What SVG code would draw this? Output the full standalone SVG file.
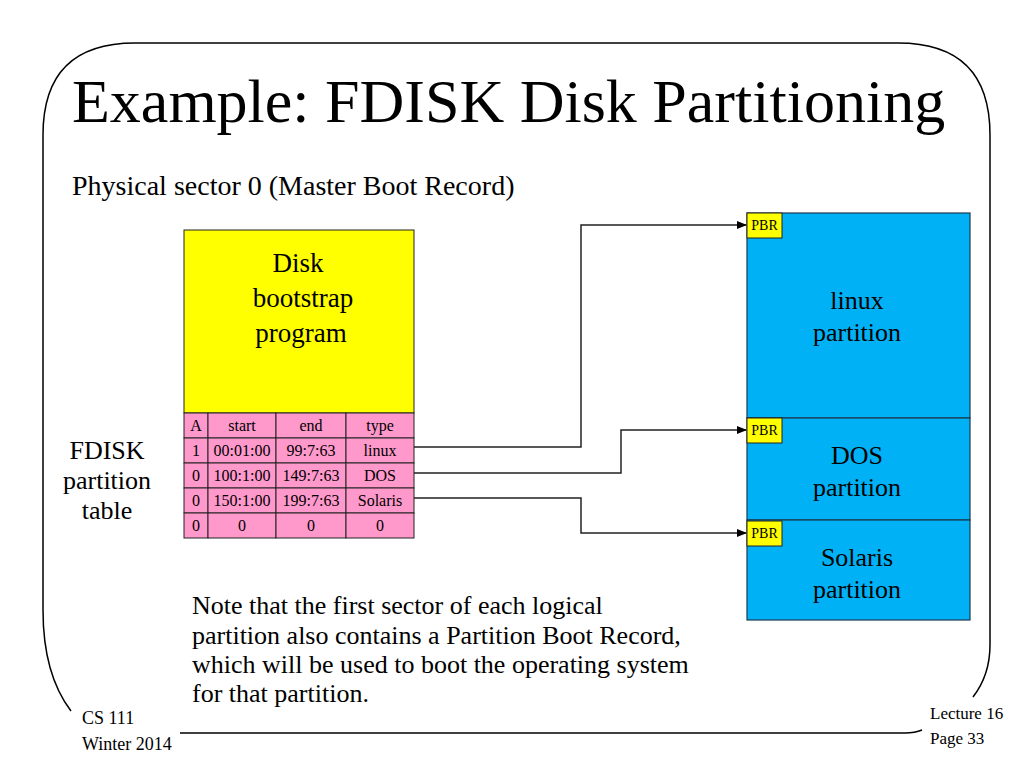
<svg xmlns="http://www.w3.org/2000/svg" width="1024" height="768" viewBox="0 0 1024 768" font-family="'Liberation Serif', 'DejaVu Serif', serif">
<style>
text{font-family:'Liberation Serif','DejaVu Serif',serif;fill:#000}
.c{text-anchor:middle}
.cell{fill:#FF99CC;stroke:#222;stroke-width:1}
.part{fill:#00B2F5;stroke:#1a3a50;stroke-width:1.2}
.pbr{fill:#FFFF00;stroke:#222;stroke-width:1}
.conn{fill:none;stroke:#222;stroke-width:1.5}
.frame{fill:none;stroke:#000;stroke-width:1.5}
.t{font-size:16px}
.p{font-size:14px}
</style>
<defs>
<marker id="ah" markerWidth="10" markerHeight="8" refX="9" refY="4" orient="auto" markerUnits="userSpaceOnUse">
<path d="M0,0 L10,4 L0,8 Z" fill="#000"/>
</marker>
</defs>
<rect width="1024" height="768" fill="#fff"/>
<g id="frame">
<path class="frame" d="M71,711 C55,690 43,660 43,610 L43,135 Q43,43 135,43 L898,43 Q990,43 990,135 L990,645 Q990,675 973,697"/>
<path class="frame" d="M180,733 L905,733 Q915,733 922,730"/>
</g>
<text x="72" y="122" font-size="62">Example: FDISK Disk Partitioning</text>
<text x="72" y="195" font-size="28">Physical sector 0 (Master Boot Record)</text>
<g id="bootstrap">
<rect x="184" y="230" width="230" height="183" fill="#FFFF00" stroke="#222" stroke-width="1"/>
<text class="c" x="298" y="272" font-size="27">Disk</text>
<text class="c" x="303" y="307" font-size="27">bootstrap</text>
<text class="c" x="301" y="342" font-size="27">program</text>
</g>
<g id="table">
<rect class="cell" x="184" y="413" width="24" height="25"/><rect class="cell" x="208" y="413" width="68" height="25"/><rect class="cell" x="276" y="413" width="70" height="25"/><rect class="cell" x="346" y="413" width="68" height="25"/>
<rect class="cell" x="184" y="438" width="24" height="25"/><rect class="cell" x="208" y="438" width="68" height="25"/><rect class="cell" x="276" y="438" width="70" height="25"/><rect class="cell" x="346" y="438" width="68" height="25"/>
<rect class="cell" x="184" y="463" width="24" height="25"/><rect class="cell" x="208" y="463" width="68" height="25"/><rect class="cell" x="276" y="463" width="70" height="25"/><rect class="cell" x="346" y="463" width="68" height="25"/>
<rect class="cell" x="184" y="488" width="24" height="25"/><rect class="cell" x="208" y="488" width="68" height="25"/><rect class="cell" x="276" y="488" width="70" height="25"/><rect class="cell" x="346" y="488" width="68" height="25"/>
<rect class="cell" x="184" y="513" width="24" height="25"/><rect class="cell" x="208" y="513" width="68" height="25"/><rect class="cell" x="276" y="513" width="70" height="25"/><rect class="cell" x="346" y="513" width="68" height="25"/>
<text class="c t" x="196" y="431">A</text><text class="c t" x="242" y="431">start</text><text class="c t" x="311" y="431">end</text><text class="c t" x="380" y="431">type</text>
<text class="c t" x="196" y="456">1</text><text class="c t" x="242" y="456">00:01:00</text><text class="c t" x="311" y="456">99:7:63</text><text class="c t" x="380" y="456">linux</text>
<text class="c t" x="196" y="481">0</text><text class="c t" x="242" y="481">100:1:00</text><text class="c t" x="311" y="481">149:7:63</text><text class="c t" x="380" y="481">DOS</text>
<text class="c t" x="196" y="506">0</text><text class="c t" x="242" y="506">150:1:00</text><text class="c t" x="311" y="506">199:7:63</text><text class="c t" x="380" y="506">Solaris</text>
<text class="c t" x="196" y="531">0</text><text class="c t" x="242" y="531">0</text><text class="c t" x="311" y="531">0</text><text class="c t" x="380" y="531">0</text>
</g>
<g id="fdisk-label">
<text class="c" x="107" y="459" font-size="26">FDISK</text>
<text class="c" x="107" y="489" font-size="26">partition</text>
<text class="c" x="107" y="519" font-size="26">table</text>
</g>
<g id="linux">
<rect class="part" x="747" y="213" width="223" height="205"/>
<rect class="pbr" x="747" y="213" width="35" height="25"/>
<text class="c p" x="764.5" y="230">PBR</text>
<text class="c" x="857" y="309" font-size="26">linux</text>
<text class="c" x="857" y="341" font-size="26">partition</text>
</g>
<g id="dos">
<rect class="part" x="747" y="418" width="223" height="102"/>
<rect class="pbr" x="747" y="418" width="35" height="25"/>
<text class="c p" x="764.5" y="435">PBR</text>
<text class="c" x="857" y="464" font-size="26">DOS</text>
<text class="c" x="857" y="496" font-size="26">partition</text>
</g>
<g id="solaris">
<rect class="part" x="747" y="520" width="223" height="100"/>
<rect class="pbr" x="747" y="521" width="35" height="25"/>
<text class="c p" x="764.5" y="538">PBR</text>
<text class="c" x="857" y="566" font-size="26">Solaris</text>
<text class="c" x="857" y="598" font-size="26">partition</text>
</g>
<g id="connectors">
<path class="conn" d="M414,447 L581,447 L581,225 L746,225" marker-end="url(#ah)"/>
<path class="conn" d="M414,473 L621,473 L621,430 L746,430" marker-end="url(#ah)"/>
<path class="conn" d="M414,498 L581,498 L581,533 L746,533" marker-end="url(#ah)"/>
</g>
<g id="note">
<text x="192" y="614" font-size="26">Note that the first sector of each logical</text>
<text x="192" y="644" font-size="26">partition also contains a Partition Boot Record,</text>
<text x="192" y="673" font-size="26">which will be used to boot the operating system</text>
<text x="192" y="702" font-size="26">for that partition.</text>
</g>
<g id="footer">
<text x="82" y="724" font-size="18">CS 111</text>
<text x="82" y="750" font-size="18">Winter 2014</text>
<text x="930" y="719" font-size="17">Lecture 16</text>
<text x="930" y="744" font-size="17">Page 33</text>
</g>
</svg>
